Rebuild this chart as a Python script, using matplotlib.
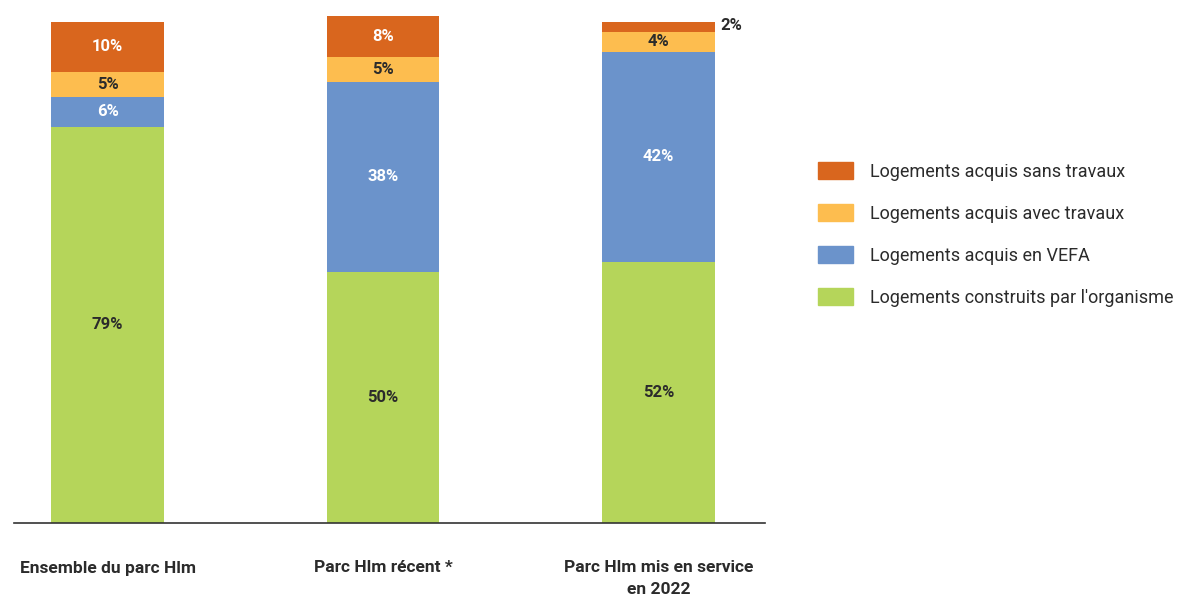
import matplotlib.pyplot as plt
from matplotlib.patches import Patch
import numpy as np

plt.rcParams['font.family'] = ['Roboto', 'DejaVu Sans']

categories = ["Ensemble du parc Hlm", "Parc Hlm récent *", "Parc Hlm mis en service\nen 2022"]
series = ["Logements construits par l'organisme", "Logements acquis en VEFA",
          "Logements acquis avec travaux", "Logements acquis sans travaux"]
construits = [79, 50, 52]
vefa = [6, 38, 42]
avec_travaux = [5, 5, 4]
sans_travaux = [10, 8, 2]

colors = ["#B5D55A", "#6B93CB", "#FDBD4F", "#D9661E"]
label_colors = ["#2b2b2b", "white", "#2b2b2b", "white"]
dark = "#2b2b2b"

W, H = 1177, 597
fig = plt.figure(figsize=(W / 100, H / 100), dpi=100)
ax = fig.add_axes([14 / W, (H - 523) / H, (765 - 14) / W, (523 - 19) / H])

x = np.arange(len(categories))
width = 0.41
bottom = np.zeros(len(categories))
for vals, col, tcol in zip([construits, vefa, avec_travaux, sans_travaux], colors, label_colors):
    vals = np.array(vals, dtype=float)
    ax.bar(x, vals, width, bottom=bottom, color=col, linewidth=0, clip_on=False)
    for i, v in enumerate(vals):
        mid = bottom[i] + v / 2
        if v < 3:
            # too thin to hold its label: put it beside the bar
            ax.text(x[i] + width / 2 + 0.02, mid + 0.3, f"{v:.0f}%", ha="left", va="center",
                    fontsize=12, fontweight="bold", color=dark)
        else:
            ax.text(x[i], mid, f"{v:.0f}%", ha="center", va="center",
                    fontsize=12, fontweight="bold", color=tcol)
    bottom += vals

ax.set_xlim(-0.34, 2.387)
ax.set_ylim(0, 100.5)
for s in ["top", "right", "left"]:
    ax.spines[s].set_visible(False)
ax.spines["bottom"].set_color("#333333")
ax.spines["bottom"].set_linewidth(1.2)
ax.set_yticks([])
ax.set_xticks([])

for i, name in enumerate(categories):
    ax.annotate(name, xy=(x[i], 0), xycoords="data", xytext=(0, -27), textcoords="offset points",
                ha="center", va="top", fontsize=12.5, fontweight="bold", color=dark,
                linespacing=1.55)

handles = [Patch(color=c, label=l) for c, l in zip(colors[::-1], series[::-1])]
fig.legend(handles=handles, loc="upper left", bbox_to_anchor=(818 / W, 1 - 162 / H),
           frameon=False, fontsize=13, handlelength=1.95, handleheight=1.05,
           handletextpad=0.95, labelspacing=1.3, borderpad=0, borderaxespad=0,
           labelcolor=dark)

fig.savefig("out.png", dpi=100)
